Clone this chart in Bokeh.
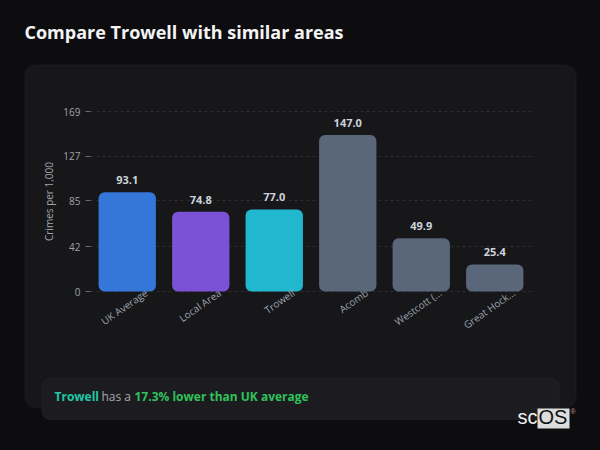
from bokeh.plotting import figure
from bokeh.models import (ColumnDataSource, Range1d, FixedTicker,
                          LabelSet, Label, BoxAnnotation, GlobalInlineStyleSheet)
from bokeh.core.properties import value
from bokeh.embed import file_html
from bokeh.resources import INLINE

# data
areas = ["UK Average", "Local Area", "Trowell", "Acomb", "Westcott (...", "Great Hock..."]
crime_rates = [93.1, 74.8, 77.0, 147.0, 49.9, 25.4]
bar_colors = ["#3576d9", "#7b51d6", "#21b8cf", "#5a6679", "#5a6679", "#5a6679"]
y_ticks = [0, 42, 85, 127, 169]

title_text = "Compare Trowell with similar areas"
y_label = "Crimes per 1,000"
summary_area = "Trowell"
summary_mid = "has a"
summary_diff = "17.3% lower than UK average"

PAGE_BG = "#0d0d10"
CARD_BG = "#17171a"
FONT = "Open Sans"
W, H = 584, 434

# the frame covers the whole canvas; the bar area sits at x 90..531, y 111..291 (px)
px_x = 73.5                 # px per category slot
px_y = 180 / y_ticks[-1]    # px per crime unit
x_range = Range1d(-90 / px_x, (W - 90) / px_x)
y_range = Range1d(-(H - 291) / px_y, 291 / px_y)

src = ColumnDataSource(dict(
    xpos=[i + 0.5 for i in range(len(areas))],
    area=areas,
    rate=crime_rates,
    rate_text=["%.1f" % v for v in crime_rates],
    color=bar_colors,
))

p = figure(width=W, height=H, title=None, x_range=x_range, y_range=y_range,
           output_backend="svg", toolbar_location=None,
           min_border=0, min_border_left=0, min_border_right=0,
           min_border_top=0, min_border_bottom=0,
           background_fill_color=PAGE_BG, border_fill_color=PAGE_BG,
           outline_line_color=None)
p.stylesheets = [GlobalInlineStyleSheet(css="body { background: %s; }" % PAGE_BG)]

def box(left, right, top, bottom, **kw):
    # screen units: from the frame's bottom-left corner
    return BoxAnnotation(left=left, right=right, top=H - top, bottom=H - bottom,
                         left_units="screen", right_units="screen",
                         top_units="screen", bottom_units="screen", **kw)

def text(x, y, s, **kw):
    return Label(x=x, y=H - y, x_units="screen", y_units="screen", text=s, **kw)

# card
p.add_layout(box(24.5, 575.5, 64.5, 407, fill_color=CARD_BG, fill_alpha=1,
                 line_color="#303036", line_width=1, border_radius=10, level="image"))

p.xaxis.visible = False
p.xgrid.visible = False
yg = p.ygrid[0]
yg.grid_line_color = "#2c2c31"
yg.grid_line_dash = "3 3"
if "cross_bounds" in yg.properties():
    yg.cross_bounds = (0, len(areas))

ya = p.yaxis[0]
ya.fixed_location = 0
ya.bounds = (0, y_ticks[-1])
ya.ticker = FixedTicker(ticks=y_ticks)
ya.axis_line_color = None
ya.major_tick_line_color = "#6b6b73"
ya.major_tick_out = 5
ya.major_tick_in = 0
ya.minor_tick_line_color = None
ya.major_label_text_color = "#a1a1aa"
ya.major_label_text_font = FONT
ya.major_label_text_font_size = "10px"
ya.major_label_standoff = 5
ya.axis_label = y_label
ya.axis_label_text_font = FONT
ya.axis_label_text_font_style = "normal"
ya.axis_label_text_font_size = "10px"
ya.axis_label_text_color = "#a1a1aa"
ya.axis_label_standoff = 4

p.vbar(x="xpos", top="rate", width=0.78, source=src, fill_color="color",
       line_color=None, border_radius=6)

p.add_layout(LabelSet(x="xpos", y="rate", text="rate_text", source=src,
                      text_align="center", text_baseline="alphabetic", y_offset=8,
                      text_font=value(FONT), text_font_size="11px",
                      text_font_style="bold", text_color="#cdd3dc"))

p.add_layout(LabelSet(x="xpos", y=0, text="area", source=src,
                      angle=35, angle_units="deg", x_offset=19, y_offset=0,
                      text_align="right", text_baseline="middle",
                      text_font=value(FONT), text_font_size="10px", text_color="#9ca3af"))

# title
p.add_layout(text(24, 43, title_text, text_font=FONT, text_font_size="18px",
                  text_font_style="bold", text_color="#f4f4f5"))

# summary footer
p.add_layout(box(41.5, 558.5, 378.5, 419, fill_color="#1c1c20", fill_alpha=1,
                 line_color="#38383e", line_width=1, border_radius=8))
p.add_layout(text(54, 404, summary_area, text_font=FONT, text_font_size="12px",
                  text_font_style="bold", text_color="#20c9a6"))
p.add_layout(text(101, 404, summary_mid, text_font=FONT, text_font_size="12px",
                  text_color="#a8a8b0"))
p.add_layout(text(134, 404, summary_diff, text_font=FONT, text_font_size="12px",
                  text_font_style="bold", text_color="#2fc25b"))

# logo
p.add_layout(box(537, 569, 408, 428, fill_color="#dcdcdc", fill_alpha=1, line_color=None))
p.add_layout(text(517, 427, "sc", text_font="Liberation Sans", text_font_size="20px",
                  text_color="#f0f0f0"))
p.add_layout(text(538, 427, "OS", text_font="Liberation Sans", text_font_size="20px",
                  text_color="#111111"))
p.add_layout(text(570, 414, "®", text_font="Liberation Sans", text_font_size="7px",
                  text_color="#b89090"))

open("out.html", "w").write(file_html(p, INLINE, title=title_text))
